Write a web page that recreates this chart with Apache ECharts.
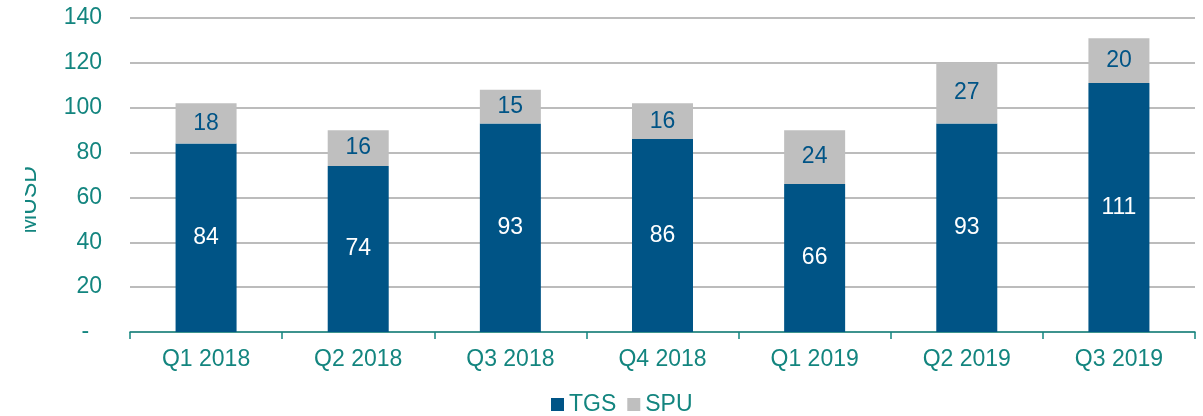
<!DOCTYPE html>
<html>
<head>
<meta charset="utf-8">
<script src="https://cdn.jsdelivr.net/npm/echarts@6/dist/echarts.min.js"></script>
<style>
  html, body { margin: 0; padding: 0; background: #fff; }
  #main { width: 1203px; height: 416px; }
</style>
</head>
<body>
<div id="main"></div>
<script>
const quarters = ['Q1 2018', 'Q2 2018', 'Q3 2018', 'Q4 2018', 'Q1 2019', 'Q2 2019', 'Q3 2019'];
const tgs = [84, 74, 93, 86, 66, 93, 111];
const spu = [18, 16, 15, 16, 24, 27, 20];

const teal = '#13857f';
const font = 'Liberation Sans, Arial, sans-serif';
var chart = echarts.init(document.getElementById('main'));
chart.setOption({
  animation: false,
  textStyle: { fontFamily: font },
  color: ['#005486', '#bfbfbf'],
  grid: { left: 130, right: 8, top: 18, bottom: 84 },
  legend: {
    bottom: 0,
    left: 551,
    padding: 0,
    itemWidth: 13,
    itemHeight: 13,
    itemGap: 11,
    icon: 'rect',
    textStyle: { color: teal, fontSize: 23, fontFamily: font },
    data: ['TGS', 'SPU']
  },
  // the axis name is cut at the left edge in the original
  graphic: [{
    type: 'rect',
    left: 0, top: 0, z: 100,
    shape: { width: 25, height: 416 },
    style: { fill: '#fff' }
  }],
  xAxis: {
    type: 'category',
    data: quarters,
    axisLine: { lineStyle: { color: teal, width: 1.5 } },
    axisTick: { show: true, length: 7, lineStyle: { color: teal, width: 1.5 } },
    axisLabel: { color: teal, fontSize: 23, margin: 16, fontFamily: font }
  },
  yAxis: {
    type: 'value',
    min: 0,
    max: 140,
    interval: 20,
    name: 'MUSD',
    nameLocation: 'middle',
    nameRotate: 90,
    nameGap: 89,
    nameTextStyle: { color: teal, fontSize: 23, fontFamily: font, padding: [0, 50, 0, 0] },
    axisLine: { show: false },
    axisTick: { show: false },
    axisLabel: {
      color: teal, fontSize: 23, margin: 28, fontFamily: font,
      formatter: v => v === 0 ? '-  ' : String(v)
    },
    splitLine: { lineStyle: { color: '#a6a6a6', width: 1.5 } }
  },
  series: [
    {
      name: 'TGS',
      type: 'bar',
      stack: 'total',
      barWidth: 61,
      data: tgs,
      label: { show: true, position: 'inside', color: '#fff', fontSize: 23, fontFamily: font }
    },
    {
      name: 'SPU',
      type: 'bar',
      stack: 'total',
      barWidth: 61,
      data: spu,
      label: { show: true, position: 'inside', color: '#005486', fontSize: 23, fontFamily: font }
    }
  ]
});
</script>
</body>
</html>
